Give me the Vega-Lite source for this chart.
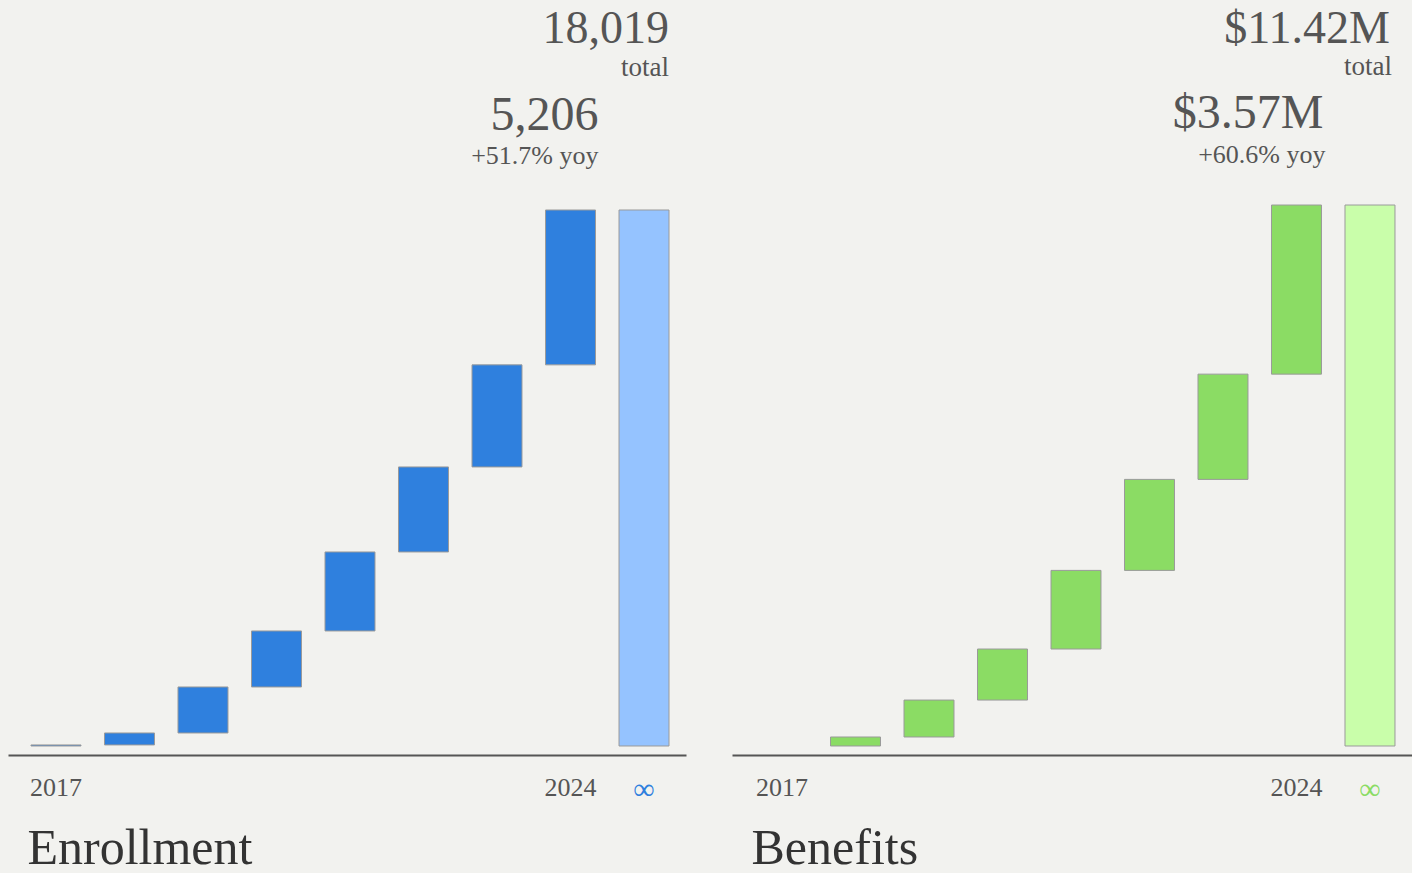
{
  "$schema": "https://vega.github.io/schema/vega-lite/v6.json",
  "background": "#f2f2ef",
  "padding": {"left": 8, "top": 0, "right": 0, "bottom": 0},
  "config": {"view": {"stroke": null}, "font": "Liberation Serif", "concat": {"spacing": 46}},
  "resolve": {"scale": {"color": "independent", "x": "independent", "y": "independent"}},
  "datasets": {
    "enroll": [
      {"year": "2017", "kind": "year", "low": 0, "high": 36},
      {"year": "2018", "kind": "year", "low": 36, "high": 438},
      {"year": "2019", "kind": "year", "low": 438, "high": 1984},
      {"year": "2020", "kind": "year", "low": 1984, "high": 3867},
      {"year": "2021", "kind": "year", "low": 3867, "high": 6523},
      {"year": "2022", "kind": "year", "low": 6523, "high": 9381},
      {"year": "2023", "kind": "year", "low": 9381, "high": 12813},
      {"year": "2024", "kind": "year", "low": 12813, "high": 18019, "big": "5,206", "small": "+51.7% yoy"},
      {"year": "∞", "kind": "total", "low": 0, "high": 18019, "big": "18,019", "small": "total"}
    ],
    "benefits": [
      {"year": "2018", "kind": "year", "low": 0, "high": 0.19},
      {"year": "2019", "kind": "year", "low": 0.19, "high": 0.97},
      {"year": "2020", "kind": "year", "low": 0.97, "high": 2.047},
      {"year": "2021", "kind": "year", "low": 2.047, "high": 3.707},
      {"year": "2022", "kind": "year", "low": 3.707, "high": 5.628},
      {"year": "2023", "kind": "year", "low": 5.628, "high": 7.85},
      {"year": "2024", "kind": "year", "low": 7.85, "high": 11.42, "big": "$3.57M", "small": "+60.6% yoy"},
      {"year": "∞", "kind": "total", "low": 0, "high": 11.42, "big": "$11.42M", "small": "total"}
    ]
  },
  "hconcat": [
    {
      "width": 678,
      "height": 755,
      "data": {"name": "enroll"},
      "layer": [
        {
          "mark": {"type": "bar", "stroke": "#9a9a9a", "strokeWidth": 1},
          "encoding": {
            "x": {
              "field": "year", "type": "nominal",
              "scale": {"domain": ["2017","2018","2019","2020","2021","2022","2023","2024","∞"], "paddingInner": 0.32, "paddingOuter": 0.272, "align": 0.575},
              "axis": {
                "title": "Enrollment",
                "labelExpr": "datum.value == '2017' || datum.value == '2024' || datum.value == '∞' ? datum.value : ''",
                "labelAngle": 0, "ticks": false, "domainColor": "#555555", "domainWidth": 2,
                "labelFontSize": {"condition": {"test": "datum.value == '∞'", "value": 30}, "value": 26},
                "labelFont": "Liberation Serif",
                "labelColor": {"condition": {"test": "datum.value == '∞'", "value": "#2F80DE"}, "value": "#555555"},
                "labelPadding": 19,
                "titleFont": "Liberation Serif", "titleFontSize": 50, "titleFontWeight": "normal", "titleColor": "#333333",
                "titleAnchor": "start", "titleAlign": "left", "titleX": 19, "titlePadding": 19
              }
            },
            "y": {"field": "low", "type": "quantitative", "scale": {"domain": [-302.6, 25078], "nice": false, "zero": false}, "axis": null},
            "y2": {"field": "high"},
            "color": {"field": "kind", "type": "nominal", "scale": {"domain": ["year", "total"], "range": ["#2F80DE", "#95C3FF"]}, "legend": null}
          }
        },
        {
          "transform": [{"filter": "datum.year == '2024'"}],
          "mark": {"type": "text", "align": "right", "baseline": "alphabetic", "fontSize": 48, "color": "#555555", "dx": 3, "dy": -80},
          "encoding": {"x": {"field": "year", "type": "nominal", "bandPosition": 1}, "y": {"field": "high", "type": "quantitative"}, "text": {"field": "big"}}
        },
        {
          "transform": [{"filter": "datum.year == '2024'"}],
          "mark": {"type": "text", "align": "right", "baseline": "alphabetic", "fontSize": 26, "color": "#555555", "dx": 3, "dy": -46},
          "encoding": {"x": {"field": "year", "type": "nominal", "bandPosition": 1}, "y": {"field": "high", "type": "quantitative"}, "text": {"field": "small"}}
        },
        {
          "transform": [{"filter": "datum.kind == 'total'"}],
          "mark": {"type": "text", "align": "right", "baseline": "alphabetic", "fontSize": 46, "color": "#555555", "dx": 0, "dy": -167},
          "encoding": {"x": {"field": "year", "type": "nominal", "bandPosition": 1}, "y": {"field": "high", "type": "quantitative"}, "text": {"field": "big"}}
        },
        {
          "transform": [{"filter": "datum.kind == 'total'"}],
          "mark": {"type": "text", "align": "right", "baseline": "alphabetic", "fontSize": 27, "color": "#555555", "dx": 0, "dy": -134},
          "encoding": {"x": {"field": "year", "type": "nominal", "bandPosition": 1}, "y": {"field": "high", "type": "quantitative"}, "text": {"field": "small"}}
        }
      ]
    },
    {
      "width": 680,
      "height": 755,
      "data": {"name": "benefits"},
      "layer": [
        {
          "mark": {"type": "bar", "stroke": "#9a9a9a", "strokeWidth": 1},
          "encoding": {
            "x": {
              "field": "year", "type": "nominal",
              "scale": {"domain": ["2017","2018","2019","2020","2021","2022","2023","2024","∞"], "paddingInner": 0.32, "paddingOuter": 0.286, "align": 0.595},
              "axis": {
                "title": "Benefits",
                "labelExpr": "datum.value == '2017' || datum.value == '2024' || datum.value == '∞' ? datum.value : ''",
                "labelAngle": 0, "ticks": false, "domainColor": "#555555", "domainWidth": 2,
                "labelFontSize": {"condition": {"test": "datum.value == '∞'", "value": 30}, "value": 26},
                "labelFont": "Liberation Serif",
                "labelColor": {"condition": {"test": "datum.value == '∞'", "value": "#8BDC64"}, "value": "#555555"},
                "labelPadding": 19,
                "titleFont": "Liberation Serif", "titleFontSize": 50, "titleFontWeight": "normal", "titleColor": "#333333",
                "titleAnchor": "start", "titleAlign": "left", "titleX": 19, "titlePadding": 19
              }
            },
            "y": {"field": "low", "type": "quantitative", "scale": {"domain": [-0.19, 15.748], "nice": false, "zero": false}, "axis": null},
            "y2": {"field": "high"},
            "color": {"field": "kind", "type": "nominal", "scale": {"domain": ["year", "total"], "range": ["#8BDC64", "#C9FEAA"]}, "legend": null}
          }
        },
        {
          "transform": [{"filter": "datum.year == '2024'"}],
          "mark": {"type": "text", "align": "right", "baseline": "alphabetic", "fontSize": 48, "color": "#555555", "dx": 2, "dy": -77},
          "encoding": {"x": {"field": "year", "type": "nominal", "bandPosition": 1}, "y": {"field": "high", "type": "quantitative"}, "text": {"field": "big"}}
        },
        {
          "transform": [{"filter": "datum.year == '2024'"}],
          "mark": {"type": "text", "align": "right", "baseline": "alphabetic", "fontSize": 26, "color": "#555555", "dx": 4, "dy": -42},
          "encoding": {"x": {"field": "year", "type": "nominal", "bandPosition": 1}, "y": {"field": "high", "type": "quantitative"}, "text": {"field": "small"}}
        },
        {
          "transform": [{"filter": "datum.kind == 'total'"}],
          "mark": {"type": "text", "align": "right", "baseline": "alphabetic", "fontSize": 46, "color": "#555555", "dx": -5, "dy": -162},
          "encoding": {"x": {"field": "year", "type": "nominal", "bandPosition": 1}, "y": {"field": "high", "type": "quantitative"}, "text": {"field": "big"}}
        },
        {
          "transform": [{"filter": "datum.kind == 'total'"}],
          "mark": {"type": "text", "align": "right", "baseline": "alphabetic", "fontSize": 27, "color": "#555555", "dx": -3, "dy": -130},
          "encoding": {"x": {"field": "year", "type": "nominal", "bandPosition": 1}, "y": {"field": "high", "type": "quantitative"}, "text": {"field": "small"}}
        }
      ]
    }
  ]
}
